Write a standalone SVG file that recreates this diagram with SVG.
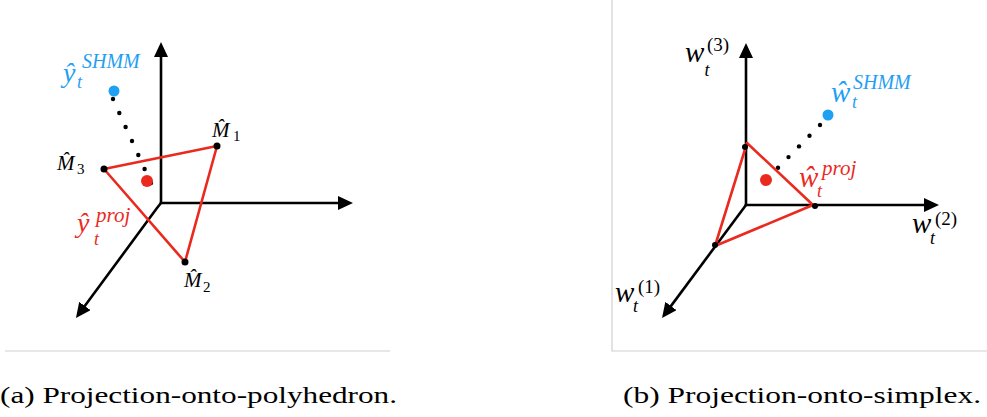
<svg xmlns="http://www.w3.org/2000/svg" width="987" height="417" viewBox="0 0 987 417">
<style>
.ax{stroke:#000;stroke-width:2.6;fill:none}
.tri{stroke:#ea2a1f;stroke-width:2.6;fill:none;stroke-linejoin:round}
.frame{stroke:#cfcfcf;stroke-width:1.2;fill:none}
.m{font-style:italic}
.up{font-style:normal}
.cap{font-size:24px;fill:#000}
.blue{fill:#1fa0f2}
.red{fill:#ea2a1f}
.blk{fill:#000}
</style>
<defs>
<marker id="arr" markerUnits="userSpaceOnUse" markerWidth="15" markerHeight="14" refX="7" refY="7" orient="auto">
<path d="M0,0 L15,7 L0,14 Z" fill="#000"/>
</marker>
</defs>
<rect width="987" height="417" fill="#fff"/>
<g id="frames">
<line class="frame" x1="5" y1="351" x2="390" y2="351"/>
<polyline class="frame" points="612,0 612,351 987,351"/>
</g>
<g id="connectors">
<line class="ax" x1="161" y1="204" x2="161" y2="50" marker-end="url(#arr)"/>
<line class="ax" x1="159.8" y1="203" x2="345" y2="203" marker-end="url(#arr)"/>
<polyline class="ax" points="161,203 157,208 80.7,311.6" marker-end="url(#arr)"/>
<line class="ax" x1="746" y1="206" x2="746" y2="51" marker-end="url(#arr)"/>
<line class="ax" x1="744.8" y1="205" x2="931" y2="205" marker-end="url(#arr)"/>
<line class="ax" x1="746" y1="205" x2="666.8" y2="311.6" marker-end="url(#arr)"/>
<g id="dotsA" class="blk">
<circle cx="113" cy="99" r="2.2"/><circle cx="119.3" cy="113" r="2.2"/><circle cx="125.6" cy="127" r="2.2"/><circle cx="132" cy="141" r="2.2"/><circle cx="138.3" cy="155" r="2.2"/><circle cx="144.6" cy="169" r="2.2"/><circle cx="151" cy="183" r="2.2"/>
</g>
<g id="dotsB" class="blk">
<circle cx="820" cy="125" r="2.2"/><circle cx="809.5" cy="135.7" r="2.2"/><circle cx="799" cy="146.4" r="2.2"/><circle cx="788.5" cy="157.1" r="2.2"/><circle cx="778" cy="167.8" r="2.2"/>
</g>
</g>
<g id="polyhedron">
<polygon class="tri" points="104,169 217,146 185,262"/>
<circle class="blk" cx="104" cy="169" r="3.5"/>
<circle class="blk" cx="217" cy="146" r="3.5"/>
<circle class="blk" cx="185" cy="262" r="3.5"/>
</g>
<g id="simplex">
<polygon class="tri" points="747,143 813,205 715,246"/>
<circle class="blk" cx="745" cy="147" r="3"/>
<circle class="blk" cx="815" cy="206" r="3"/>
<circle class="blk" cx="715" cy="245" r="3"/>
</g>
<g font-family="Liberation Serif, Tinos, Times New Roman, Times, serif">
<g id="yshmm">
<circle class="blue" cx="114" cy="91" r="5.5"/>
<text class="m blue"><tspan x="63" y="82" font-size="28">ŷ</tspan><tspan x="82" y="68" font-size="20">SHMM</tspan><tspan x="77" y="88" font-size="18">t</tspan></text>
</g>
<g id="yproj">
<circle class="red" cx="147" cy="181" r="6"/>
<text class="m red"><tspan x="77" y="232" font-size="28">ŷ</tspan><tspan x="96" y="222" font-size="21">proj</tspan><tspan x="94" y="245" font-size="18">t</tspan></text>
</g>
<g id="M1">
<text class="m blk"><tspan x="212" y="137" font-size="21">M̂</tspan><tspan class="up" x="233" y="141" font-size="15">1</tspan></text>
</g>
<g id="M2">
<text class="m blk"><tspan x="184" y="287" font-size="21">M̂</tspan><tspan class="up" x="203" y="292" font-size="15">2</tspan></text>
</g>
<g id="M3">
<text class="m blk"><tspan x="57" y="170" font-size="21">M̂</tspan><tspan class="up" x="77" y="174" font-size="15">3</tspan></text>
</g>
<g id="wshmm">
<circle class="blue" cx="828" cy="115" r="5.5"/>
<text class="m blue"><tspan x="831" y="102" font-size="29">ŵ</tspan><tspan x="853" y="89" font-size="20">SHMM</tspan><tspan x="852" y="108" font-size="18">t</tspan></text>
</g>
<g id="wproj">
<circle class="red" cx="766" cy="180" r="6"/>
<text class="m red"><tspan x="799" y="187" font-size="29">ŵ</tspan><tspan x="822" y="175" font-size="21">proj</tspan><tspan x="817" y="197" font-size="18">t</tspan></text>
</g>
<g id="w3">
<text class="m blk"><tspan x="685" y="62" font-size="29">w</tspan><tspan class="up" x="707" y="51" font-size="19">(3)</tspan><tspan x="704.5" y="76" font-size="18">t</tspan></text>
</g>
<g id="w2">
<text class="m blk"><tspan x="912" y="233" font-size="29">w</tspan><tspan class="up" x="935" y="225" font-size="19">(2)</tspan><tspan x="930" y="244" font-size="18">t</tspan></text>
</g>
<g id="w1">
<text class="m blk"><tspan x="615" y="302" font-size="29">w</tspan><tspan class="up" x="638" y="293" font-size="19">(1)</tspan><tspan x="633" y="312" font-size="18">t</tspan></text>
</g>
<g id="captions">
<text class="cap" x="0" y="403" textLength="397" lengthAdjust="spacingAndGlyphs">(a) Projection-onto-polyhedron.</text>
<text class="cap" x="623" y="403" textLength="358" lengthAdjust="spacingAndGlyphs">(b) Projection-onto-simplex.</text>
</g>
</g>
</svg>
